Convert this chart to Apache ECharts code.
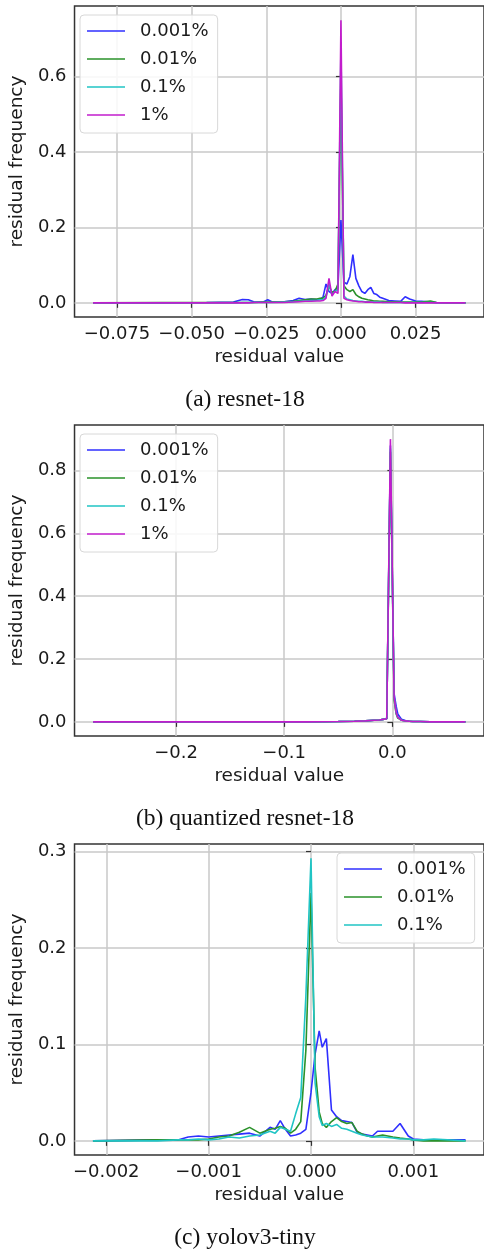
<!DOCTYPE html>
<html>
<head>
<meta charset="utf-8">
<script src="https://cdn.jsdelivr.net/npm/echarts@6.0.0/dist/echarts.min.js"></script>
<style>
  html, body { margin: 0; padding: 0; background: #fff; }
  #chart { width: 484px; height: 1251px; }
</style>
</head>
<body>
<div id="chart"></div>
<script>
// ---- data ----
const seriesNames = ['0.001%', '0.01%', '0.1%', '1%'];
const seriesColors = ['#2f2fff', '#2a922a', '#20c4c4', '#c21ccc'];

// (a) resnet-18
const xA = [-0.083, -0.06, -0.045, -0.036, -0.033, -0.031, -0.029, -0.026, -0.0245, -0.023,
  -0.019, -0.016, -0.014, -0.012, -0.010, -0.008, -0.007, -0.006, -0.005, -0.004,
  -0.003, -0.002, -0.001, 0, 0.001, 0.002, 0.003, 0.004, 0.005, 0.006,
  0.007, 0.008, 0.009, 0.010, 0.011, 0.012, 0.013, 0.014, 0.016, 0.018,
  0.020, 0.0215, 0.023, 0.025, 0.027, 0.030, 0.032, 0.036, 0.0417];
const aBlue = [0, 0, 0.001, 0.002, 0.009, 0.008, 0.002, 0.002, 0.008, 0.002,
  0.003, 0.006, 0.012, 0.009, 0.010, 0.008, 0.010, 0.015, 0.050, 0.030,
  0.025, 0.035, 0.040, 0.220, 0.055, 0.050, 0.070, 0.128, 0.065, 0.045,
  0.030, 0.025, 0.035, 0.041, 0.025, 0.022, 0.015, 0.012, 0.006, 0.005,
  0.004, 0.016, 0.010, 0.005, 0.004, 0.002, 0.001, 0, 0];
const aGreen = [0, 0.001, 0.001, 0.001, 0.001, 0.001, 0.001, 0.002, 0.002, 0.002,
  0.003, 0.004, 0.006, 0.008, 0.010, 0.010, 0.012, 0.012, 0.020, 0.045,
  0.028, 0.030, 0.050, 0.600, 0.045, 0.035, 0.030, 0.035, 0.022, 0.016,
  0.012, 0.010, 0.008, 0.007, 0.005, 0.005, 0.004, 0.004, 0.003, 0.003,
  0.002, 0.002, 0.002, 0.002, 0.002, 0.005, 0.001, 0, 0];
const aCyan = [0, 0, 0, 0, 0.001, 0.001, 0.001, 0.001, 0.001, 0.001,
  0.002, 0.003, 0.004, 0.005, 0.006, 0.007, 0.008, 0.009, 0.015, 0.050,
  0.022, 0.030, 0.035, 0.680, 0.018, 0.010, 0.008, 0.006, 0.005, 0.004,
  0.004, 0.003, 0.003, 0.002, 0.002, 0.002, 0.002, 0.001, 0.001, 0.001,
  0.001, 0.001, 0.001, 0.001, 0.001, 0.001, 0, 0, 0];
const aMagenta = [0, 0, 0, 0, 0, 0, 0.001, 0.001, 0.001, 0.001,
  0.001, 0.002, 0.003, 0.004, 0.004, 0.005, 0.005, 0.006, 0.012, 0.065,
  0.018, 0.030, 0.025, 0.750, 0.012, 0.008, 0.006, 0.005, 0.004, 0.003,
  0.003, 0.002, 0.002, 0.002, 0.001, 0.001, 0.001, 0.001, 0.001, 0.001,
  0.001, 0, 0, 0, 0, 0, 0, 0, 0];
const aXTicks = [-0.075, -0.05, -0.025, 0, 0.025];
const aYTicks = [0, 0.2, 0.4, 0.6];

// (b) quantized resnet-18
const xB = [-0.2766, -0.15, -0.08, -0.05, -0.035, -0.025, -0.017, -0.012, -0.0086, -0.0052,
  -0.0018, 0.0016, 0.0035, 0.005, 0.0085, 0.012, 0.0155, 0.019, 0.026, 0.035, 0.0675];
const bBlue = [0, 0, 0, 0.001, 0.002, 0.003, 0.005, 0.006, 0.008, 0.010,
  0.880, 0.090, 0.050, 0.025, 0.008, 0.004, 0.002, 0.001, 0.001, 0, 0];
const bGreen = [0, 0, 0, 0.001, 0.002, 0.003, 0.005, 0.006, 0.008, 0.010,
  0.860, 0.070, 0.025, 0.012, 0.005, 0.003, 0.002, 0.001, 0.001, 0, 0];
const bCyan = [0, 0, 0, 0.001, 0.002, 0.003, 0.005, 0.006, 0.008, 0.010,
  0.870, 0.080, 0.030, 0.015, 0.005, 0.003, 0.002, 0.001, 0.001, 0, 0];
const bMagenta = [0, 0, 0, 0.001, 0.002, 0.003, 0.005, 0.006, 0.008, 0.010,
  0.900, 0.080, 0.030, 0.015, 0.005, 0.003, 0.002, 0.001, 0.001, 0, 0];
const bXTicks = [-0.2, -0.1, 0];
const bYTicks = [0, 0.2, 0.4, 0.6, 0.8];

// (c) yolov3-tiny
const xC = [-0.00213, -0.0015, -0.0013, -0.0012, -0.0011, -0.001, -0.0009, -0.0008, -0.0007, -0.0006,
  -0.0005, -0.0004, -0.00035, -0.0003, -0.00025, -0.0002, -0.00015, -0.0001, -0.00005, 0,
  0.00004, 0.00008, 0.00011, 0.00015, 0.0002, 0.00025, 0.0003, 0.00035, 0.0004, 0.00045,
  0.0005, 0.00055, 0.0006, 0.00065, 0.0007, 0.0008, 0.00087, 0.00095, 0.001, 0.0011,
  0.0012, 0.00151];
const cBlue = [0, 0.001, 0.001, 0.004, 0.005, 0.004, 0.005, 0.006, 0.007, 0.008,
  0.005, 0.014, 0.012, 0.021, 0.012, 0.005, 0.006, 0.008, 0.012, 0.050,
  0.090, 0.114, 0.097, 0.106, 0.032, 0.025, 0.021, 0.020, 0.019, 0.009,
  0.007, 0.006, 0.005, 0.010, 0.010, 0.010, 0.018, 0.005, 0.002, 0.001,
  0.001, 0.001];
const cGreen = [0, 0.001, 0.001, 0.001, 0.001, 0.002, 0.004, 0.005, 0.009, 0.014,
  0.008, 0.012, 0.013, 0.015, 0.013, 0.008, 0.012, 0.020, 0.094, 0.257,
  0.076, 0.030, 0.018, 0.014, 0.020, 0.024, 0.020, 0.018, 0.019, 0.010,
  0.007, 0.005, 0.004, 0.005, 0.006, 0.004, 0.003, 0.002, 0.001, 0,
  0, 0];
const cCyan = [0, 0, 0.001, 0.001, 0.002, 0.001, 0.002, 0.004, 0.003, 0.005,
  0.006, 0.010, 0.008, 0.014, 0.012, 0.010, 0.028, 0.045, 0.150, 0.293,
  0.060, 0.025, 0.016, 0.018, 0.015, 0.017, 0.013, 0.012, 0.010, 0.008,
  0.006, 0.005, 0.004, 0.004, 0.004, 0.003, 0.002, 0.002, 0.001, 0.001,
  0.002, 0];
const cXTicks = [-0.002, -0.001, 0, 0.001];
const cYTicks = [0, 0.1, 0.2, 0.3];

// ---- chart ----
const FONT = 'DejaVu Sans';
const TEXT = '#1a1a1a';
// thin horizontal bar used as legend sample line
const LINE_ICON = 'path://M0,0 L38,0 L38,1.6 L0,1.6 Z';

function zip(xs, ys) {
  return xs.map((x, i) => [x, ys[i]]);
}
function fmt(dec) {
  return (v) => v.toFixed(dec).replace('-', '\u2212');
}

const panels = [
  {
    top: 6, xMin: -0.0892, xMax: 0.0479, yMin: -0.0376, yMax: 0.7876,
    xTicks: aXTicks, yTicks: aYTicks, xDec: 3, yDec: 1,
    legendPos: { left: 80, top: 15 },
    caption: '(a) resnet-18', captionY: 400,
    lines: [aBlue, aGreen, aCyan, aMagenta], xs: xA
  },
  {
    top: 425, xMin: -0.2938, xMax: 0.0847, yMin: -0.045, yMax: 0.945,
    xTicks: bXTicks, yTicks: bYTicks, xDec: 1, yDec: 1,
    legendPos: { left: 80, top: 434 },
    caption: '(b) quantized resnet-18', captionY: 819,
    lines: [bBlue, bGreen, bCyan, bMagenta], xs: xB
  },
  {
    top: 844, xMin: -0.00231, xMax: 0.00169, yMin: -0.01465, yMax: 0.3077,
    xTicks: cXTicks, yTicks: cYTicks, xDec: 3, yDec: 1,
    legendPos: { left: 337, top: 853 },
    caption: '(c) yolov3-tiny', captionY: 1238,
    lines: [cBlue, cGreen, cCyan], xs: xC
  }
];

const grid = [], xAxis = [], yAxis = [], series = [], legend = [], graphic = [];

panels.forEach((p, i) => {
  grid.push({
    left: 71, right: -1, top: p.top, height: 311,
    show: true, borderColor: '#333', borderWidth: 1.5, backgroundColor: 'transparent'
  });
  xAxis.push({
    gridIndex: i, type: 'value', min: p.xMin, max: p.xMax,
    axisLine: { show: false },
    axisTick: { show: true, customValues: p.xTicks, length: 5, lineStyle: { color: '#333', width: 1.2 } },
    axisLabel: { customValues: p.xTicks, formatter: fmt(p.xDec), fontFamily: FONT, fontSize: 18, color: TEXT, margin: 8 },
    splitLine: { show: true, lineStyle: { color: '#c9c9c9', width: 1.5 } },
    name: 'residual value', nameLocation: 'middle', nameGap: 31,
    nameTextStyle: { fontFamily: FONT, fontSize: 18.5, color: TEXT }
  });
  yAxis.push({
    gridIndex: i, type: 'value', min: p.yMin, max: p.yMax,
    axisLine: { show: false },
    axisTick: { show: true, customValues: p.yTicks, length: 5, lineStyle: { color: '#333', width: 1.2 } },
    axisLabel: { customValues: p.yTicks, formatter: fmt(p.yDec), fontFamily: FONT, fontSize: 18, color: TEXT, margin: 8 },
    splitLine: { show: true, lineStyle: { color: '#c9c9c9', width: 1.5 } },
    name: 'residual frequency', nameLocation: 'middle', nameGap: 40,
    nameTextStyle: { fontFamily: FONT, fontSize: 18.5, color: TEXT }
  });
  p.lines.forEach((ys, k) => {
    series.push({
      type: 'line', name: seriesNames[k], xAxisIndex: i, yAxisIndex: i,
      data: zip(p.xs, ys), symbol: 'none', smooth: false,
      lineStyle: { color: seriesColors[k], width: 1.6 },
      itemStyle: { color: seriesColors[k] },
      z: 2 + k
    });
  });
  legend.push({
    orient: 'vertical', left: p.legendPos.left, top: p.legendPos.top,
    data: seriesNames.slice(0, p.lines.length).map((n) => ({ name: n, icon: LINE_ICON })),
    itemWidth: 38, itemHeight: 18, itemGap: 10,
    padding: [7, 9, 9, 7],
    backgroundColor: 'rgba(255,255,255,0.85)', borderColor: '#d8d8d8', borderWidth: 1, borderRadius: 4,
    selectedMode: false,
    textStyle: { fontFamily: FONT, fontSize: 18, color: TEXT, padding: [0, 0, 0, 10] }
  });
  graphic.push({
    type: 'text', x: 245, y: p.captionY,
    style: {
      text: p.caption, font: '23.5px "Liberation Serif"', fill: '#111',
      align: 'center', verticalAlign: 'middle'
    }
  });
});

const chart = echarts.init(document.getElementById('chart'), null, { renderer: 'canvas' });
chart.setOption({
  animation: false,
  backgroundColor: '#fff',
  grid, xAxis, yAxis, series, legend, graphic
});
</script>
</body>
</html>
